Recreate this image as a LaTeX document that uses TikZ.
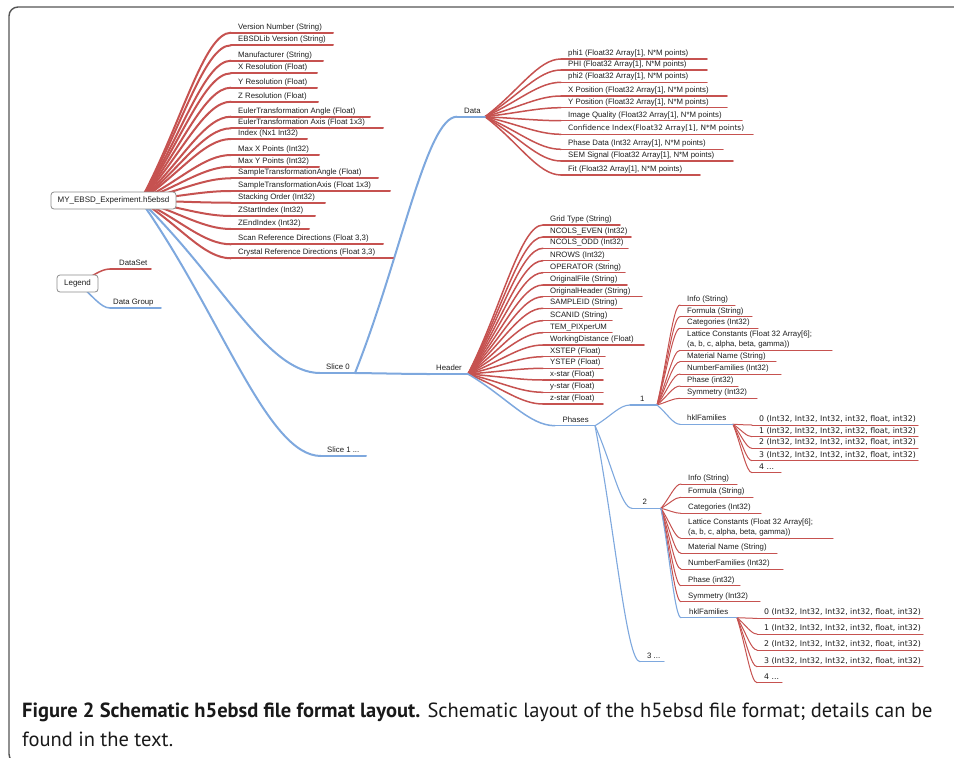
\documentclass[tikz,border=0pt]{standalone}
\usepackage{fontspec}
\setmainfont{Liberation Sans}
\newfontfamily\dejavu{DejaVu Sans}
\newfontfamily\ptsans{PT Sans}
\usetikzlibrary{calc}
\pgfdeclarelayer{bg}
\pgfsetlayers{bg,main}
\definecolor{rc}{RGB}{198,82,80}
\definecolor{bc}{RGB}{126,168,222}
\definecolor{txt}{RGB}{30,30,30}
\definecolor{framec}{RGB}{85,85,85}
\newcommand\lab{\fontsize{7.8}{10}\selectfont}
\newcommand\labw{\dejavu\fontsize{7.8}{10}\selectfont}
\newcommand\brc[3]{\draw[#1] let \p1=(#2), \p2=(#3) in (\p1) .. controls ({\x1+0.45*(\x2-\x1)},{\y1+0.45*(\y2-\y1)}) and ({\x2-0.3*(\x2-\x1)},{\y2}) .. (\p2);}
\tikzset{
 r1/.style={draw=rc, line width=2pt, line cap=round},
 r2/.style={draw=rc, line width=1.5pt, line cap=round},
 r3/.style={draw=rc, line width=1pt, line cap=round},
 b1/.style={draw=bc, line width=2pt, line cap=round},
 b2/.style={draw=bc, line width=1.5pt, line cap=round},
 b3/.style={draw=bc, line width=1.1pt, line cap=round},
 lf/.style={anchor=south west, inner xsep=7pt, inner ysep=1.5pt, text height=5.7pt, text depth=1.9pt, font=\lab, text=txt},
 ul/.style 2 args={lf, append after command={(\tikzlastnode.south west) edge[#1] ([xshift=#2]\tikzlastnode.south west)}},
 box/.style={draw=black!45, line width=0.8pt, rounded corners=3pt, fill=white, font=\fontsize{8}{10}\selectfont, text=txt, inner sep=0pt},
 framestyle/.style={draw=framec, line width=1.4pt, rounded corners=9pt},
 capstyle/.style={anchor=base west, inner sep=0pt, font=\ptsans\fontsize{20.5}{24}\selectfont, text=black!90}
}
\begin{document}
\begin{tikzpicture}[x=1pt,y=-1pt]
\useasboundingbox (0,0) rectangle (954,758);
\begin{scope}
\clip (0,0) rectangle (954,758);
\draw[framestyle] (9,7) rectangle (990,763);
\end{scope}

% root and legend
\node[box, minimum width=125pt, minimum height=17pt] (root) at (113.5,200.5) {MY\_EBSD\_Experiment.h5ebsd};
\coordinate (rootO) at ([xshift=27pt]root.center);
\node[box, minimum width=41pt, minimum height=17pt] (leg) at (77.5,283.5) {Legend};
\node[ul={r2}{41}, inner xsep=9pt] (ds) at (110,269) {DataSet};
\node[ul={b2}{51}, inner xsep=3pt] (dg) at (110,308) {Data Group};

% root datasets
\foreach \nm/\yy/\len/\tx in {
vn/32.7/102/{Version Number (String)},
ev/45.3/102/{EBSDLib Version (String)},
mf/60.7/92/{Manufacturer (String)},
xr/73.3/86/{X Resolution (Float)},
yr/87.7/86/{Y Resolution (Float)},
zr/101.7/87/{Z Resolution (Float)},
eta/116.7/139/{EulerTransformation Angle (Float)},
etx/128.3/152/{EulerTransformation Axis (Float 1x3)},
idx/139/76/{Index (Nx1 Int32)},
mxp/155/88/{Max X Points (Int32)},
myp/166.7/88/{Max Y Points (Int32)},
sta/178.3/147/{SampleTransformationAngle (Float)},
stx/191/159/{SampleTransformationAxis (Float 1x3)},
so/202.7/94/{Stacking Order (Int32)},
zs/216/84/{ZStartIndex (Int32)},
ze/229/78/{ZEndIndex (Int32)},
srd/244.3/152/{Scan Reference Directions (Float 3,3)},
crd/258.3/162/{Crystal Reference Directions (Float 3,3)}}
{\node[ul={r1}{\len}] (\nm) at (231,\yy) {\tx};}

% slices
\node[ul={b1}{35}, inner xsep=6pt] (s0) at (320,373) {Slice 0};
\coordinate (s0E) at ([xshift=35pt]s0.south west);
\node[ul={b1}{45}, inner xsep=6pt] (s1) at (321,456) {Slice 1 ...};

% data
\node[ul={b1}{28}] (data) at (457,116.7) {Data};
\coordinate (dataE) at ([xshift=28pt]data.south west);
\foreach \nm/\yy/\len/\tx in {
d1/59/146/{phi1 (Float32 Array[1], N*M points)},
d2/70/146/{PHI (Float32 Array[1], N*M points)},
d3/82.3/146/{phi2 (Float32 Array[1], N*M points)},
d4/96/166/{X Position (Float32 Array[1], N*M points)},
d5/107.7/166/{Y Position (Float32 Array[1], N*M points)},
d6/120.7/181/{Image Quality (Float32 Array[1], N*M points)},
d8/149.3/162/{Phase Data (Int32 Array[1], N*M points)},
d9/161/172/{SEM Signal (Float32 Array[1], N*M points)},
d10/175/139/{Fit (Float32 Array[1], N*M points)}}
{\node[ul={r2}{\len}] (\nm) at (561,\yy) {\tx};}
\node[ul={r2}{192}, font=\dejavu\fontsize{7.4}{10}\selectfont] (d7) at (561,134.3) {Confidence Index(Float32 Array[1], N*M points)};

% header
\node[ul={b1}{38}, inner xsep=6pt] (hdr) at (430,374) {Header};
\coordinate (hdrE) at ([xshift=38pt]hdr.south west);
\foreach \nm/\yy/\len/\tx in {
h1/225/77/{Grid Type (String)},
h2/237/88/{NCOLS\_EVEN (Int32)},
h3/248.3/85/{NCOLS\_ODD (Int32)},
h4/260.7/66/{NROWS (Int32)},
h5/272.7/82/{OPERATOR (String)},
h6/285/84/{OriginalFile (String)},
h7/296.7/99/{OriginalHeader (String)},
h8/308.3/79/{SAMPLEID (String)},
h9/320.7/69/{SCANID (String)},
h10/332.7/69/{TEM\_PIXperUM},
h11/345/101/{WorkingDistance (Float)},
h12/356.7/62/{XSTEP (Float)},
h13/368.3/60/{YSTEP (Float)},
h14/380/60/{x-star (Float)},
h15/392.3/60/{y-star (Float)},
h16/404/60/{z-star (Float)}}
{\node[ul={r2}{\len}] (\nm) at (543,\yy) {\tx};}

% phases
\node[ul={b2}{40}, inner xsep=7.5pt] (ph) at (555,425.7) {Phases};
\coordinate (phE) at ([xshift=40pt]ph.south west);
\node[ul={b3}{27}, inner xsep=10pt] (p1) at (630,405) {1};
\coordinate (p1E) at ([xshift=27pt]p1.south west);
\node[ul={b3}{29}, inner xsep=10.5pt] (p2) at (632,508.3) {2};
\coordinate (p2E) at ([xshift=29pt]p2.south west);
\node[ul={b3}{24}] (p3) at (640,661.7) {3 ...};

% phase 1
\foreach \nm/\yy/\len/\tx in {
a1/305/55/{Info (String)},
a2/316.7/72/{Formula (String)},
a3/328.3/78/{Categories (Int32)},
a5/361.7/96/{Material Name (String)},
a6/374/101/{NumberFamilies (Int32)},
a7/386/58/{Phase (int32)},
a8/398.3/77/{Symmetry (Int32)}}
{\node[ul={r3}{\len}] (\nm) at (680,\yy) {\tx};}
\node[ul={r3}{152}, align=left, text height={}, text depth={}] (a4) at (680,350.3) {Lattice Constants (Float 32 Array[6];\\(a, b, c, alpha, beta, gamma))};
\node[ul={b3}{53}] (hk1) at (680,424.3) {hklFamilies};
\coordinate (hk1E) at ([xshift=53pt]hk1.south west);
\foreach \nm/\yy/\len/\tx in {
k10/425/166/{0 (Int32, Int32, Int32, int32, float, int32)},
k11/436.7/166/{1 (Int32, Int32, Int32, int32, float, int32)},
k12/448.3/166/{2 (Int32, Int32, Int32, int32, float, int32)},
k13/460.7/166/{3 (Int32, Int32, Int32, int32, float, int32)},
k14/472.7/29/{4 ...}}
{\node[ul={r3}{\len}, font=\labw] (\nm) at (752,\yy) {\tx};}

% phase 2
\foreach \nm/\yy/\len/\tx in {
c1/484/56/{Info (String)},
c2/497.3/72/{Formula (String)},
c3/513.3/80/{Categories (Int32)},
c5/553.3/96/{Material Name (String)},
c6/569/102/{NumberFamilies (Int32)},
c7/585.7/59/{Phase (int32)},
c8/601.7/79/{Symmetry (Int32)}}
{\node[ul={r3}{\len}] (\nm) at (681,\yy) {\tx};}
\node[ul={r3}{152}, align=left, text height={}, text depth={}] (c4) at (681,538.3) {Lattice Constants (Float 32 Array[6];\\(a, b, c, alpha, beta, gamma))};
\node[ul={b3}{56}, inner xsep=8pt] (hk2) at (681,617.7) {hklFamilies};
\coordinate (hk2E) at ([xshift=56pt]hk2.south west);
\foreach \nm/\yy/\len/\tx in {
k20/618.3/166/{0 (Int32, Int32, Int32, int32, float, int32)},
k21/634/166/{1 (Int32, Int32, Int32, int32, float, int32)},
k22/650/166/{2 (Int32, Int32, Int32, int32, float, int32)},
k23/666.7/166/{3 (Int32, Int32, Int32, int32, float, int32)},
k24/682.7/25/{4 ...}}
{\node[ul={r3}{\len}, font=\labw] (\nm) at (757,\yy) {\tx};}

% caption
\node[capstyle] (cap1) at (22,717.5) {{\bfseries Figure 2 Schematic h5ebsd file format layout.} Schematic layout of the h5ebsd file format; details can be};
\node[capstyle] (cap2) at (22,746) {found in the text.};

% branches
\begin{pgfonlayer}{bg}
\brc{r2}{leg.center}{ds.south west}
\brc{b2}{leg.center}{dg.south west}
\foreach \nm in {vn,ev,mf,xr,yr,zr,eta,etx,idx,mxp,myp,sta,stx,so,zs,ze,srd,crd}
 {\brc{r1}{rootO}{\nm.south west}}
\brc{b1}{rootO}{s0.south west}
\brc{b1}{rootO}{s1.south west}
\brc{b1}{s0E}{data.south west}
\brc{b1}{s0E}{hdr.south west}
\foreach \nm in {d1,d2,d3,d4,d5,d6,d7,d8,d9,d10}
 {\brc{r2}{dataE}{\nm.south west}}
\foreach \nm in {h1,h2,h3,h4,h5,h6,h7,h8,h9,h10,h11,h12,h13,h14,h15,h16}
 {\brc{r2}{hdrE}{\nm.south west}}
\brc{b2}{hdrE}{ph.south west}
\brc{b3}{phE}{p1.south west}
\brc{b3}{phE}{p2.south west}
\brc{b3}{phE}{p3.south west}
\foreach \nm in {a1,a2,a3,a4,a5,a6,a7,a8}
 {\brc{r3}{p1E}{\nm.south west}}
\brc{b3}{p1E}{hk1.south west}
\foreach \nm in {k10,k11,k12,k13,k14}
 {\brc{r3}{hk1E}{\nm.south west}}
\foreach \nm in {c1,c2,c3,c4,c5,c6,c7,c8}
 {\brc{r3}{p2E}{\nm.south west}}
\brc{b3}{p2E}{hk2.south west}
\foreach \nm in {k20,k21,k22,k23,k24}
 {\brc{r3}{hk2E}{\nm.south west}}
\end{pgfonlayer}
\end{tikzpicture}
\end{document}
